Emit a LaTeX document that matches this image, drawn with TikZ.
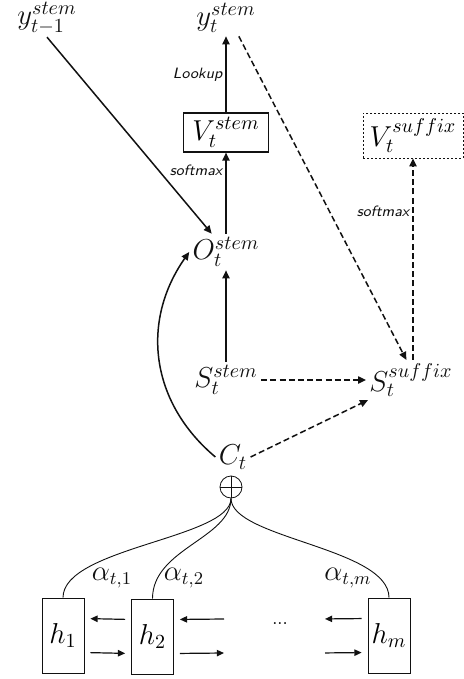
\documentclass[tikz,border=0pt]{standalone}
\usepackage{tikz}
\usetikzlibrary{arrows.meta,calc,positioning}
\definecolor{Ink}{HTML}{111111}
\tikzset{
  symNode/.style={inner sep=1.5pt,text=Ink,font=\fontsize{14}{16}\selectfont},
  vocabBox/.style={rectangle,draw=Ink,semithick,minimum width=42.5pt,minimum height=19.5pt,
    inner sep=0pt,font=\fontsize{14}{16}\selectfont},
  vocabDashed/.style={vocabBox,thin,dash pattern=on 1pt off 1pt,minimum width=50pt,minimum height=22.5pt},
  hidBox/.style={rectangle,draw=Ink,thin,minimum width=21pt,minimum height=37.5pt,
    inner sep=0pt,font=\fontsize{14}{16}\selectfont},
  sumNode/.style={circle,draw=Ink,thin,minimum size=11pt,inner sep=0pt},
  opLabel/.style={font=\sffamily\itshape\fontsize{7.5}{8}\selectfont,text=Ink,inner sep=1.5pt},
  wLabel/.style={font=\fontsize{13.5}{15}\selectfont,text=Ink,inner sep=0pt},
  flowArrow/.style={-{Triangle[length=4pt,width=3.6pt]},draw=Ink,line width=0.75pt},
  flowDashed/.style={flowArrow,dash pattern=on 3pt off 1.6pt},
  attnLine/.style={draw=Ink,line width=0.45pt},
  rnnArrow/.style={-{Triangle[length=3.6pt,width=3.2pt]},draw=Ink,line width=0.6pt,
    shorten <=3pt,shorten >=3pt}
}
\begin{document}
\begin{tikzpicture}[x=0.5pt,y=0.5pt]
  \useasboundingbox (0,0) rectangle (464,-679);
  \node[symNode] (yprev) at (47,-18) {$y_{t-1}^{stem}$};
  \node[symNode] (ystem) at (226,-18) {$y_{t}^{stem}$};
  \node[vocabBox] (vstem) at (226,-132.5) {$V_{t}^{stem}$};
  \node[vocabDashed] (vsuffix) at (413,-135.5) {$V_{t}^{suffix}$};
  \node[symNode] (ostem) at (226,-252) {$O_{t}^{stem}$};
  \node[symNode] (sstem) at (226,-380) {$S_{t}^{stem}$};
  \node[symNode] (ssuffix) at (411,-380) {$S_{t}^{suffix}$};
  \node[symNode] (ct) at (233,-457) {$C_{t}$};
  \node[sumNode] (oplus) at (231,-487) {};
  \draw[Ink,thin] (oplus.north) -- (oplus.south) (oplus.west) -- (oplus.east);
  \node[hidBox] (h1) at (63,-635.5) {$h_{1}$};
  \node[hidBox] (h2) at (152.5,-636.5) {$h_{2}$};
  \node[hidBox] (hm) at (389,-635.5) {$h_{m}$};
  \node[font=\fontsize{9}{10}\selectfont] (dots) at (280,-624) {...};
  \coordinate (gapL) at (224,-636);
  \coordinate (gapR) at (319,-636);
  % decoder side
  \draw[flowArrow] (yprev.south) -- (ostem.128);
  \draw[flowArrow] (vstem.north) -- node[opLabel,left,pos=.5]{Lookup} (ystem.south);
  \draw[flowArrow] (ostem.north) -- node[opLabel,left,pos=.78]{softmax} (vstem.south);
  \draw[flowArrow] (sstem.north) -- (ostem.south);
  \draw[flowDashed] (ystem.-55) -- (ssuffix.103);
  \draw[flowDashed] (vsuffix.south |- ssuffix.north) -- node[opLabel,left,pos=.74]{softmax} (vsuffix.south);
  \draw[flowDashed] (sstem.east) -- (ssuffix.west);
  \draw[flowDashed] (ct.east) -- (ssuffix.205);
  \draw[flowArrow] (ct.west) to[out=140,in=-125,looseness=1.05] (ostem.west);
  % attention weights
  \draw[attnLine] (oplus.south) .. controls +(0,-40) and +(0,50) .. (h1.north);
  \draw[attnLine] (oplus.south) .. controls +(0,-40) and +(0,50) .. (h2.north);
  \draw[attnLine] (oplus.south) .. controls +(0,-40) and +(0,50) .. (hm.north);
  \node[wLabel] (a1) at (112,-578) {$\alpha_{t,1}$};
  \node[wLabel] (a2) at (184,-578) {$\alpha_{t,2}$};
  \node[wLabel] (am) at (348,-578) {$\alpha_{t,m}$};
  % encoder recurrences
  \draw[rnnArrow] ([yshift=8.5pt]h2.west) -- ([yshift=8.5pt]h1.east);
  \draw[rnnArrow] ([yshift=-8.5pt]h1.east) -- ([yshift=-8.5pt]h2.west);
  \draw[rnnArrow,shorten <=0pt] ([yshift=8.5pt]gapL) -- ([yshift=8.5pt]h2.east);
  \draw[rnnArrow,shorten >=0pt] ([yshift=-8.5pt]h2.east) -- ([yshift=-8.5pt]gapL);
  \draw[rnnArrow] ([yshift=8.5pt]hm.west) -- ([yshift=8.5pt]gapR);
  \draw[rnnArrow] ([yshift=-8.5pt]gapR) -- ([yshift=-8.5pt]hm.west);
\end{tikzpicture}
\end{document}
